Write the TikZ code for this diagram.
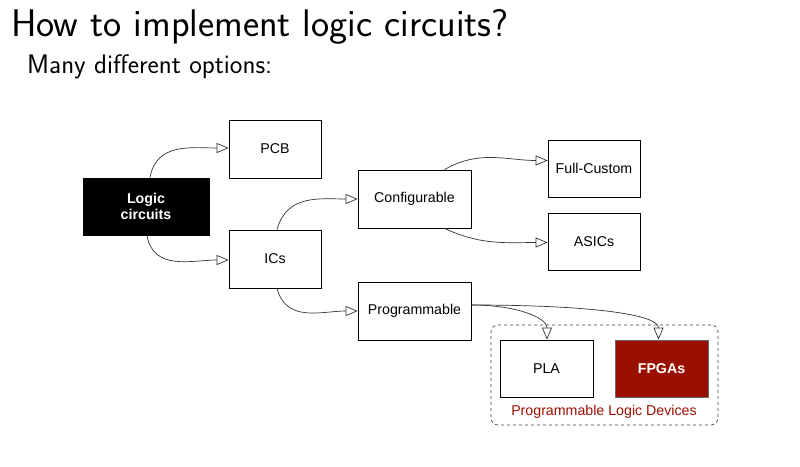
\documentclass[tikz,border=0pt]{standalone}
\usepackage{fontspec}
\newfontfamily\boxfont{Liberation Sans}
\usetikzlibrary{arrows.meta,calc}
\definecolor{darkred}{HTML}{9A1000}
\begin{document}
\begin{tikzpicture}[x=1pt,y=-1pt,
  box/.style={draw=black,line width=0.8pt,fill=white,rectangle,inner sep=0pt,font=\boxfont\fontsize{14.2}{16}\selectfont,align=center},
  conn/.style={draw=black!80,line width=0.7pt,-{Triangle[open,length=12pt,width=10pt]}},
]
\useasboundingbox (0,0) rectangle (800,466);
\node[anchor=base west,font=\sffamily\fontsize{38.5}{44}\selectfont,inner sep=0pt] (title) at (11,36) {How to implement logic circuits?};
\node[anchor=base west,font=\sffamily\fontsize{26.8}{30}\selectfont,inner sep=0pt] (sub) at (27,73) {Many different options:};

\node[draw=black!75,dashed,line width=0.7pt,rounded corners=7pt,minimum width=227pt,minimum height=100pt,inner sep=0pt] (pld) at (604.5,375) {};
\node[text=darkred,font=\boxfont\fontsize{14.2}{16}\selectfont,inner sep=0pt] (pldlabel) at (604,412) {Programmable Logic Devices};

\node[box,fill=black,text=white,font=\boxfont\bfseries\fontsize{14.2}{16.5}\selectfont,minimum width=126pt,minimum height=57pt] (logic) at (146,206.5) {Logic\\circuits};
\node[box,minimum width=92pt,minimum height=58pt] (pcb) at (275,149) {PCB};
\node[box,minimum width=92pt,minimum height=58pt] (ics) at (275,259) {ICs};
\node[box,minimum width=113pt,minimum height=58pt] (conf) at (414.5,199) {Configurable};
\node[box,minimum width=113pt,minimum height=58pt] (prog) at (414.5,311) {Programmable};
\node[box,minimum width=92pt,minimum height=57pt] (full) at (594,168.5) {Full-Custom};
\node[box,minimum width=92pt,minimum height=57pt] (asic) at (594,241.5) {ASICs};
\node[box,minimum width=93pt,minimum height=57pt] (pla) at (546.5,368.5) {PLA};
\node[box,fill=darkred,draw=black!60,text=white,font=\boxfont\bfseries\fontsize{14.2}{16}\selectfont,minimum width=93pt,minimum height=57pt] (fpga) at (661.5,368.5) {FPGAs};

\coordinate (pout) at ($(prog.east)+(0,-6)$);
\draw[conn] ($(logic.north)+(4,0)$) to[out=80,in=180,looseness=1.1] ($(pcb.west)+(0,-1)$);
\draw[conn] ($(logic.south)+(1,0)$) to[out=-80,in=180,looseness=1.1] ($(ics.west)+(0,1)$);
\draw[conn] ($(ics.north)+(2,0)$) to[out=75,in=180,looseness=1.1] (conf.west);
\draw[conn] ($(ics.south)+(2,0)$) to[out=-75,in=180,looseness=1.1] (prog.west);
\draw[conn] ($(conf.north)+(30,0)$) to[out=30,in=180] ($(full.west)+(0,-8)$);
\draw[conn] ($(conf.south)+(30,0)$) to[out=-25,in=180] ($(asic.west)+(0,1)$);
\draw[conn] (pout) .. controls +(45,0) and +(0,-22) .. ($(pla.north)+(0.5,0)$);
\draw[conn] (pout) .. controls +(120,0) and +(0,-25) .. ($(fpga.north)+(-3,0)$);
\end{tikzpicture}
\end{document}
